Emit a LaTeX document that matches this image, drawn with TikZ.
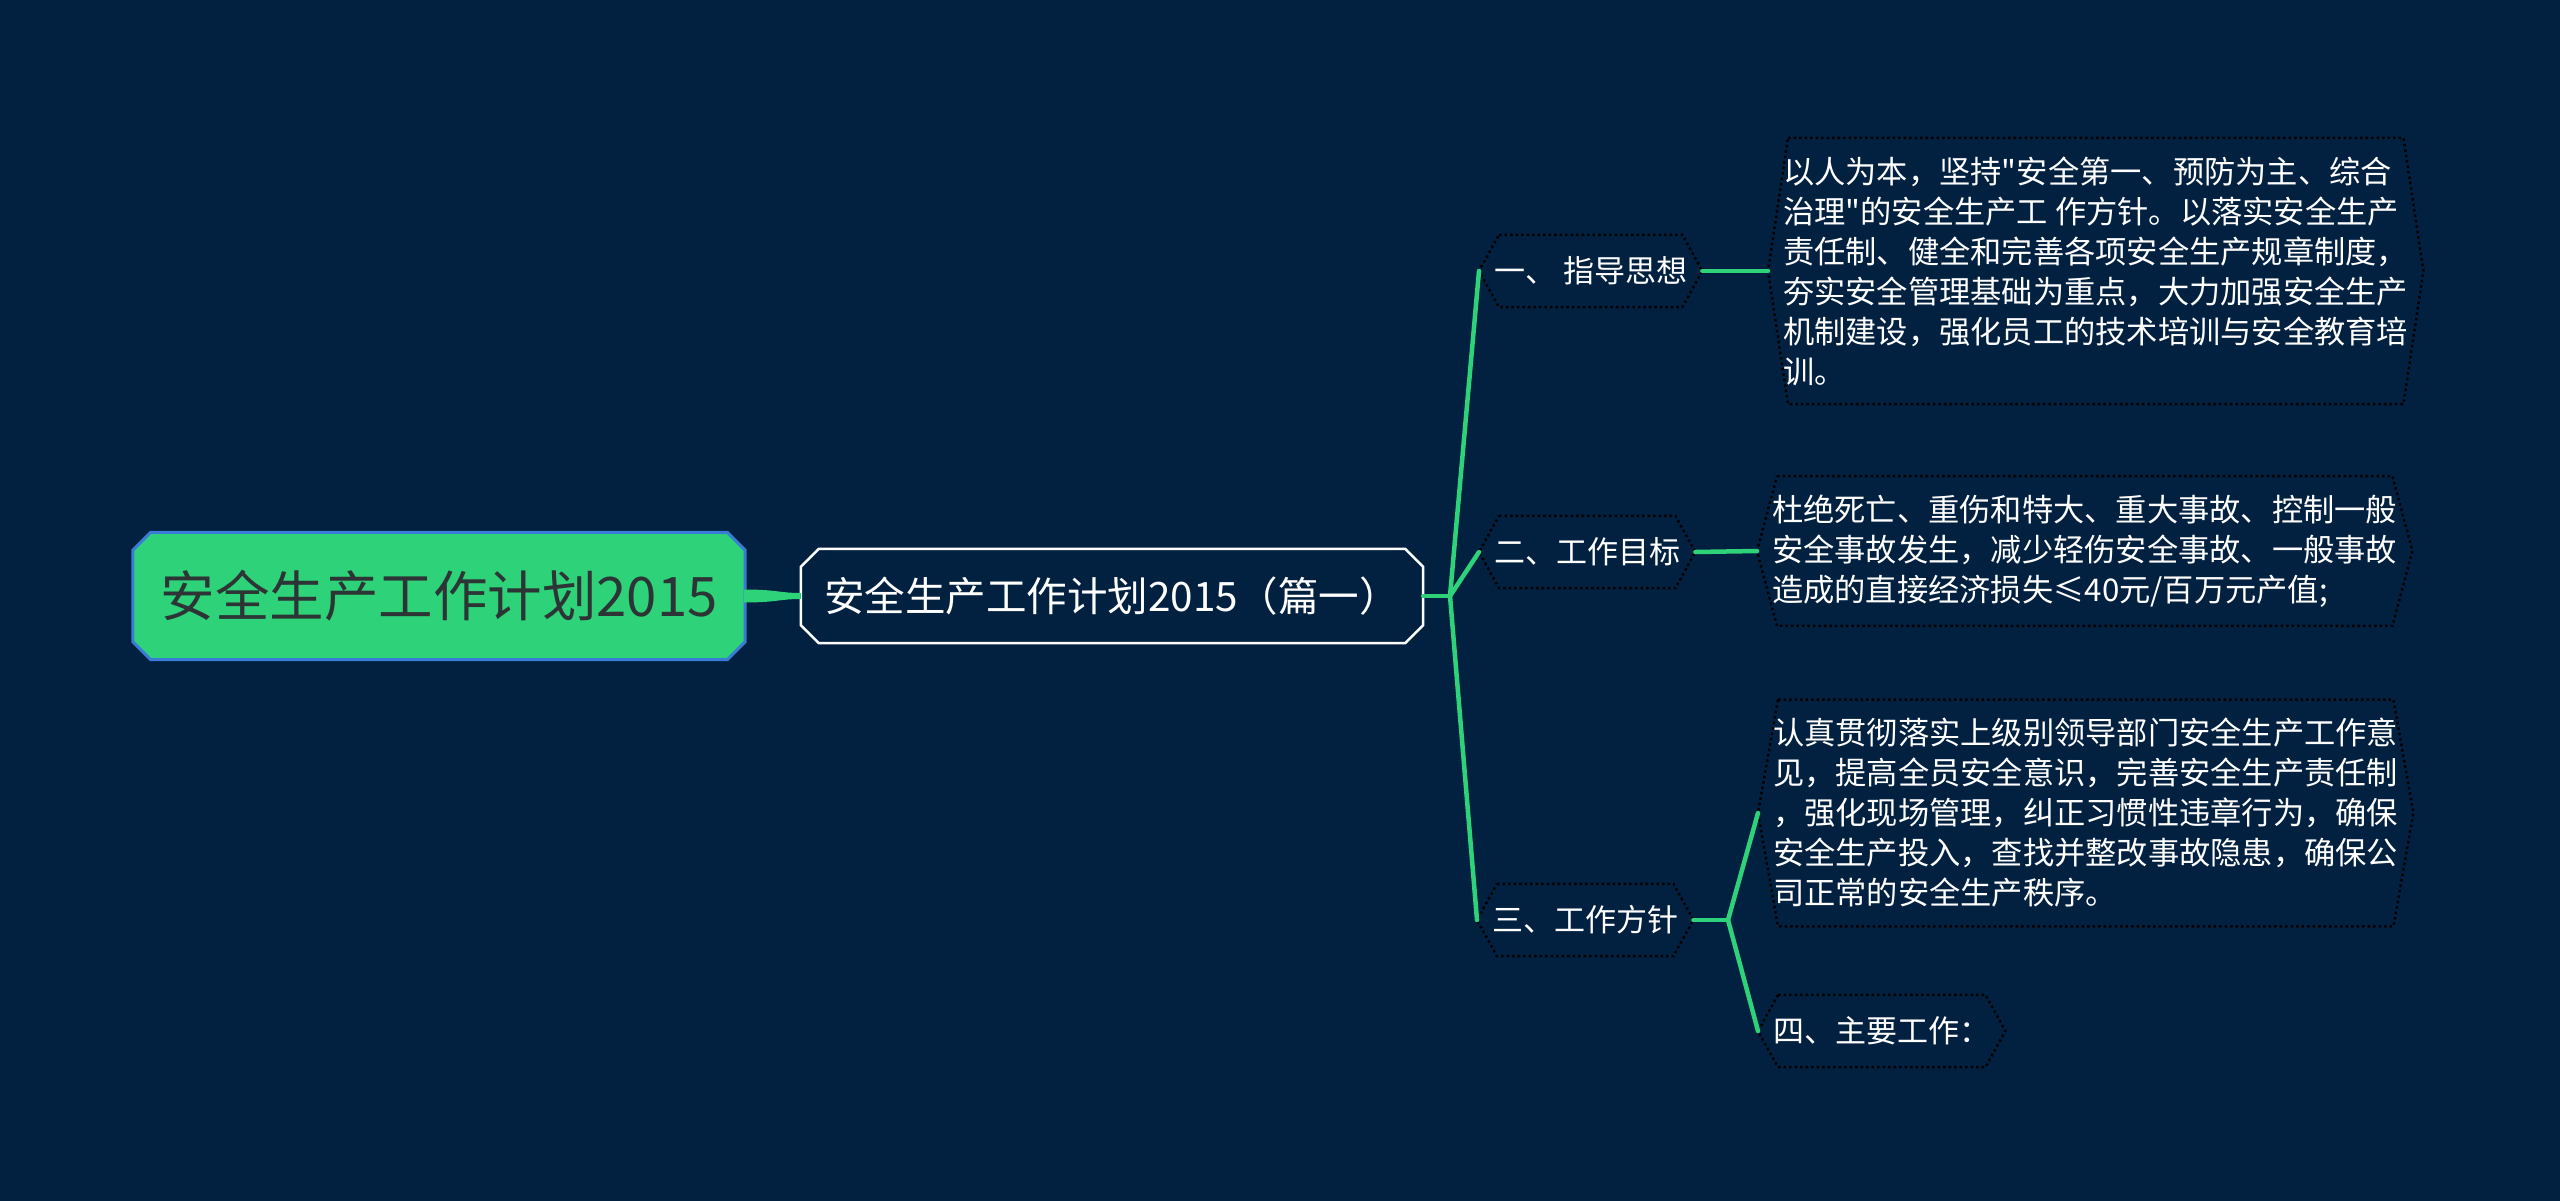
\documentclass[tikz,border=0pt]{standalone}
\usepackage{fontspec}
\newfontfamily\cjk[Ligatures=TeXOff]{Noto Sans CJK SC}
\usetikzlibrary{calc}
\pgfdeclarelayer{bgl}
\pgfdeclarelayer{frames}
\pgfsetlayers{bgl,frames,main}
\definecolor{bgnavy}{RGB}{2,33,64}
\definecolor{mmgreen}{RGB}{46,210,120}
\definecolor{rootblue}{RGB}{58,123,213}
\definecolor{roottext}{RGB}{45,52,54}
\tikzset{
  rootnode/.style={inner sep=0pt, minimum width=612pt, minimum height=127pt,
    font=\cjk\fontsize{54.5}{60}\selectfont, text=roottext},
  topicnode/.style={inner sep=0pt, minimum width=622pt, minimum height=94pt,
    font=\cjk\fontsize{40.5}{45}\selectfont, text=white},
  subnode/.style={inner xsep=15pt, inner ysep=0pt, minimum height=72pt,
    font=\cjk\fontsize{31}{40}\selectfont, text=white, anchor=west},
  notenode/.style={inner xsep=15pt, inner ysep=18.5pt, align=left,
    font=\cjk\fontsize{31.25}{40}\selectfont, text=white, anchor=west},
  link/.style={draw=mmgreen, line width=4.5pt, line cap=round},
  dotframe/.style={draw=black, line width=2.5pt, dash pattern=on 2.5pt off 3pt, fill=bgnavy},
}
\newcommand\octframe[3]{%
  \path[#3] ($(#1.north west)+(#2,0)$) -- ($(#1.north east)+(-#2,0)$)
    -- ($(#1.north east)+(0,#2)$) -- ($(#1.south east)+(0,-#2)$)
    -- ($(#1.south east)+(-#2,0)$) -- ($(#1.south west)+(#2,0)$)
    -- ($(#1.south west)+(0,-#2)$) -- ($(#1.north west)+(0,#2)$) -- cycle;}
\newcommand\hexframe[3]{%
  \path[#3] ($(#1.north west)+(#2,0)$) -- ($(#1.north east)+(-#2,0)$)
    -- (#1.east) -- ($(#1.south east)+(-#2,0)$)
    -- ($(#1.south west)+(#2,0)$) -- (#1.west) -- cycle;}
\begin{document}
\begin{tikzpicture}[x=1pt,y=-1pt]
\useasboundingbox (0,0) rectangle (2560,1201);
\begin{pgfonlayer}{bgl}
\fill[bgnavy] (0,0) rectangle (2560,1201);
\end{pgfonlayer}

\node[rootnode] (root) at (439,596) {安全生产工作计划2015};
\node[topicnode] (topic) at (1112,596) {安全生产工作计划2015（篇一）};

\node[subnode] (s1) at (1479,271) {一、 指导思想};
\node[subnode] (s2) at (1479,552) {二、工作目标};
\node[subnode] (s3) at (1477,920) {三、工作方针};
\node[subnode] (s4) at (1758,1031) {四、主要工作：};

\node[notenode] (n1) at (1768,271) {以人为本，坚持"安全第一、预防为主、综合\\治理"的安全生产工 作方针。以落实安全生产\\责任制、健全和完善各项安全生产规章制度，\\夯实安全管理基础为重点，大力加强安全生产\\机制建设，强化员工的技术培训与安全教育培\\训。};
\node[notenode] (n2) at (1757,551) {杜绝死亡、重伤和特大、重大事故、控制一般\\安全事故发生，减少轻伤安全事故、一般事故\\造成的直接经济损失≤40元/百万元产值;};
\node[notenode] (n3) at (1758,813) {认真贯彻落实上级别领导部门安全生产工作意\\见，提高全员安全意识，完善安全生产责任制\\，强化现场管理，纠正习惯性违章行为，确保\\安全生产投入，查找并整改事故隐患，确保公\\司正常的安全生产秩序。};

\coordinate (j1) at (1450,596);
\coordinate (j2) at (1728,920);

\begin{pgfonlayer}{frames}
\octframe{root}{18}{fill=mmgreen, draw=rootblue, line width=3pt}
\octframe{topic}{18}{fill=bgnavy, draw=white, line width=2.5pt}
\hexframe{s1}{20}{dotframe}
\hexframe{s2}{20}{dotframe}
\hexframe{s3}{20}{dotframe}
\hexframe{s4}{20}{dotframe}
\hexframe{n1}{20}{dotframe}
\hexframe{n2}{20}{dotframe}
\hexframe{n3}{20}{dotframe}
\end{pgfonlayer}

% tapered connector root -> topic
\fill[mmgreen] ($(root.east)+(-1,-6.5)$) .. controls ($(root.east)+(32,-6.5)$) and ($(topic.west)+(-22,-3)$) .. ($(topic.west)+(0,-3)$)
  -- ($(topic.west)+(0,3)$) .. controls ($(topic.west)+(-22,3)$) and ($(root.east)+(32,6.5)$) .. ($(root.east)+(-1,6.5)$) -- cycle;

\draw[link] (topic.east) -- (j1);
\draw[link] (j1) -- (s1.west);
\draw[link] (j1) -- (s2.west);
\draw[link] (j1) -- (s3.west);
\draw[link] (s1.east) -- (n1.west);
\draw[link] (s2.east) -- (n2.west);
\draw[link] (s3.east) -- (j2);
\draw[link] (j2) -- (n3.west);
\draw[link] (j2) -- (s4.west);
\end{tikzpicture}
\end{document}
